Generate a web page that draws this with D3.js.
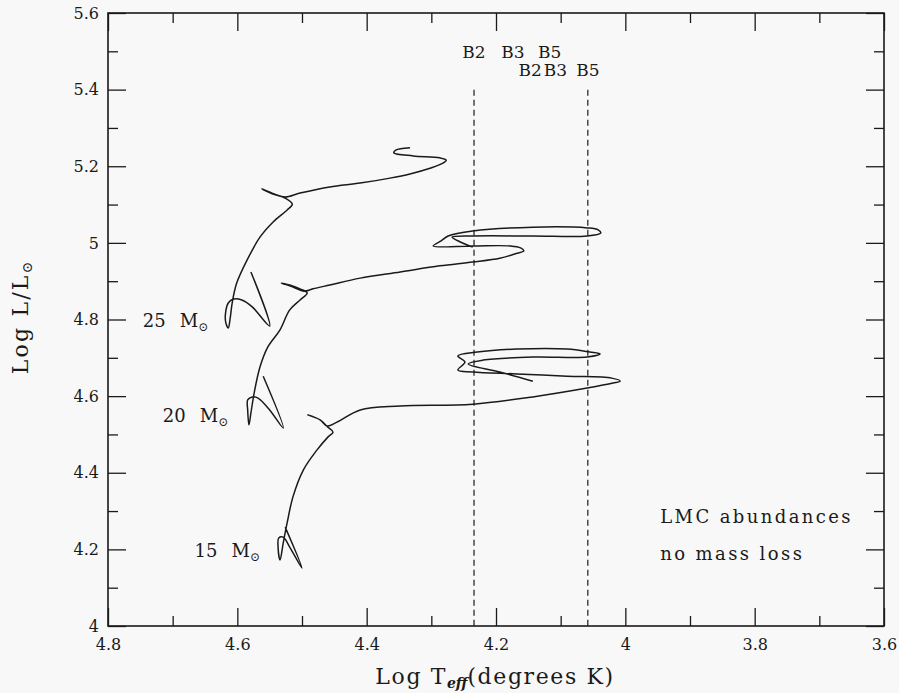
<!DOCTYPE html>
<html>
<head>
<meta charset="utf-8">
<script src="https://cdn.jsdelivr.net/npm/d3@7/dist/d3.min.js"></script>
<style>
  html, body { margin: 0; padding: 0; background: #f8f8f8; }
  svg { display: block; }
  text { font-family: "DejaVu Serif", "Liberation Serif", serif; fill: #1a1a1a; }
</style>
</head>
<body>
<svg id="chart" width="899" height="693"></svg>
<script>
// ---- axis ticks ----
const xTickValues  = [4.8, 4.6, 4.4, 4.2, 4.0, 3.8, 3.6];
const xMinorValues = [4.7, 4.5, 4.3, 4.1, 3.9, 3.7];
const yTickValues  = [4.0, 4.2, 4.4, 4.6, 4.8, 5.0, 5.2, 5.4, 5.6];
const yMinorValues = [4.1, 4.3, 4.5, 4.7, 4.9, 5.1, 5.3, 5.5];

// ---- evolutionary tracks: [log Teff, log L/Lsun] ----
const track25 = [
  [4.579, 4.924], [4.550, 4.783], [4.577, 4.833], [4.593, 4.851], [4.607, 4.853],
  [4.614, 4.843], [4.618, 4.820], [4.618, 4.793], [4.614, 4.778], [4.611, 4.804],
  [4.608, 4.843], [4.601, 4.895], [4.585, 4.955], [4.565, 5.015], [4.545, 5.054],
  [4.523, 5.086], [4.515, 5.101], [4.526, 5.117], [4.546, 5.128], [4.562, 5.141],
  [4.543, 5.128], [4.526, 5.120], [4.503, 5.130], [4.457, 5.146], [4.410, 5.156],
  [4.364, 5.169], [4.333, 5.180], [4.302, 5.195], [4.282, 5.208], [4.277, 5.216],
  [4.287, 5.222], [4.328, 5.227], [4.358, 5.235], [4.355, 5.242], [4.333, 5.248]
];
const track20 = [
  [4.560, 4.652], [4.529, 4.517], [4.550, 4.564], [4.568, 4.595], [4.577, 4.598],
  [4.584, 4.590], [4.584, 4.564], [4.582, 4.525], [4.579, 4.556], [4.574, 4.608],
  [4.565, 4.676], [4.553, 4.728], [4.534, 4.773], [4.519, 4.825], [4.503, 4.851],
  [4.492, 4.869], [4.503, 4.880], [4.519, 4.890], [4.532, 4.895], [4.514, 4.885],
  [4.497, 4.874], [4.483, 4.880], [4.457, 4.890], [4.410, 4.908], [4.348, 4.924],
  [4.287, 4.940], [4.236, 4.950], [4.194, 4.960], [4.171, 4.971], [4.157, 4.979],
  [4.162, 4.987], [4.178, 4.992], [4.236, 4.992], [4.297, 4.992], [4.285, 5.005],
  [4.274, 5.018], [4.236, 5.031], [4.143, 5.041], [4.059, 5.039], [4.042, 5.034],
  [4.038, 5.026], [4.059, 5.018], [4.143, 5.018], [4.236, 5.018], [4.268, 5.015],
  [4.256, 5.003], [4.236, 4.989]
];
const track15 = [
  [4.526, 4.258], [4.500, 4.151], [4.519, 4.206], [4.529, 4.232], [4.536, 4.230],
  [4.537, 4.206], [4.534, 4.172], [4.529, 4.217], [4.523, 4.269], [4.514, 4.337],
  [4.498, 4.407], [4.477, 4.459], [4.460, 4.493], [4.452, 4.506], [4.460, 4.519],
  [4.472, 4.538], [4.491, 4.551], [4.472, 4.538], [4.461, 4.522], [4.446, 4.532],
  [4.410, 4.564], [4.348, 4.574], [4.236, 4.579], [4.143, 4.598], [4.059, 4.621],
  [4.019, 4.634], [4.008, 4.639], [4.021, 4.647], [4.090, 4.652], [4.168, 4.658],
  [4.236, 4.663], [4.259, 4.668], [4.248, 4.689], [4.259, 4.705], [4.229, 4.715],
  [4.168, 4.723], [4.090, 4.723], [4.055, 4.715], [4.039, 4.710], [4.059, 4.702],
  [4.143, 4.702], [4.220, 4.694], [4.243, 4.684], [4.194, 4.663], [4.143, 4.639]
];
const tracks = [track25, track20, track15];

// ---- mass labels (text, anchor end position in data units) ----
const massLabels   = ["25", "20", "15"];
const massLabelPos = [[4.645, 4.780], [4.614, 4.532], [4.565, 4.180]];

// ---- spectral-type temperature scales ----
const typeLabels     = ["B2", "B3", "B5"];
const typeTempsUpper = [4.234, 4.174, 4.117];
const typeTempsLower = [4.147, 4.108, 4.058];
const boundaryTemps  = [4.234, 4.058];
const boundaryTop    = 5.4;

const noteLines = ["LMC abundances", "no mass loss"];

// ---- layout ----
const margin = { left: 108, top: 13 };
const W = 776, H = 613;
const ink = "#1a1a1a";

const svg = d3.select("#chart");
svg.append("rect").attr("width", 899).attr("height", 693).attr("fill", "#f8f8f8");

const g = svg.append("g").attr("transform", `translate(${margin.left},${margin.top})`);

const x = d3.scaleLinear().domain([4.8, 3.6]).range([0, W]);
const y = d3.scaleLinear().domain([4.0, 5.6]).range([H, 0]);

const fmt = d => String(+d.toFixed(1));

function styleAxis(sel) {
  sel.select(".domain").remove();
  sel.selectAll(".tick line").attr("stroke", ink).attr("stroke-width", 1.3);
  sel.selectAll(".tick text").attr("fill", ink)
     .style("font-family", "'DejaVu Serif', serif").style("font-size", "16px");
}

// bottom
g.append("g").attr("transform", `translate(0,${H})`)
  .call(d3.axisBottom(x).tickValues(xTickValues).tickSize(-18).tickPadding(13).tickFormat(fmt))
  .call(styleAxis);
g.append("g").attr("transform", `translate(0,${H})`)
  .call(d3.axisBottom(x).tickValues(xMinorValues).tickSize(-10).tickFormat(""))
  .call(styleAxis);
// top
g.append("g")
  .call(d3.axisTop(x).tickValues(xTickValues).tickSize(-18).tickFormat(""))
  .call(styleAxis);
g.append("g")
  .call(d3.axisTop(x).tickValues(xMinorValues).tickSize(-10).tickFormat(""))
  .call(styleAxis);
// left
g.append("g")
  .call(d3.axisLeft(y).tickValues(yTickValues).tickSize(-18).tickPadding(9).tickFormat(fmt))
  .call(styleAxis);
g.append("g")
  .call(d3.axisLeft(y).tickValues(yMinorValues).tickSize(-10).tickFormat(""))
  .call(styleAxis);
// right
g.append("g").attr("transform", `translate(${W},0)`)
  .call(d3.axisRight(y).tickValues(yTickValues).tickSize(-18).tickFormat(""))
  .call(styleAxis);
g.append("g").attr("transform", `translate(${W},0)`)
  .call(d3.axisRight(y).tickValues(yMinorValues).tickSize(-10).tickFormat(""))
  .call(styleAxis);

// frame
g.append("rect").attr("width", W).attr("height", H)
  .attr("fill", "none").attr("stroke", ink).attr("stroke-width", 1.6);

// spectral-type boundaries
g.selectAll("line.boundary").data(boundaryTemps).join("line")
  .attr("class", "boundary")
  .attr("x1", d => x(d)).attr("x2", d => x(d))
  .attr("y1", y(boundaryTop)).attr("y2", y(4.0))
  .attr("stroke", ink).attr("stroke-width", 1.2).attr("stroke-dasharray", "6,4");

function typeRow(temps, logL) {
  g.selectAll(null).data(typeLabels).join("text")
    .attr("x", (d, i) => x(temps[i])).attr("y", y(logL))
    .attr("text-anchor", "middle")
    .style("font-size", "17px")
    .text(d => d);
}
typeRow(typeTempsUpper, 5.483);
typeRow(typeTempsLower, 5.436);

// tracks
const line = d3.line().x(d => x(d[0])).y(d => y(d[1])).curve(d3.curveCatmullRom.alpha(0.5));
g.selectAll("path.track").data(tracks).join("path")
  .attr("class", "track")
  .attr("d", line)
  .attr("fill", "none").attr("stroke", ink).attr("stroke-width", 1.5)
  .attr("stroke-linejoin", "round");

// mass labels
massLabels.forEach((m, i) => {
  const t = g.append("text")
    .attr("x", x(massLabelPos[i][0])).attr("y", y(massLabelPos[i][1]))
    .attr("text-anchor", "end").style("font-size", "18px");
  t.append("tspan").text(m);
  t.append("tspan").attr("dx", 14).text("M");
  t.append("tspan").attr("dy", 4).style("font-size", "12px").text("\u2299");
});

// note
g.selectAll(null).data(noteLines).join("text")
  .attr("x", x(3.946)).attr("y", (d, i) => y(4.268) + i * 37)
  .style("font-size", "18px").style("letter-spacing", "2.4px")
  .text(d => d);

// axis titles
const xt = svg.append("text")
  .attr("x", 495).attr("y", 684).attr("text-anchor", "middle")
  .style("font-size", "22px").style("letter-spacing", "1.6px");
xt.append("tspan").text("Log T");
xt.append("tspan").attr("dy", 4).style("font-size", "14px").style("font-style", "italic")
  .style("font-weight", "bold").style("letter-spacing", "0px").text("eff");
xt.append("tspan").attr("dy", -4).text("(degrees K)");

const yt = svg.append("text")
  .attr("transform", "translate(28,318) rotate(-90)").attr("text-anchor", "middle")
  .style("font-size", "22px").style("letter-spacing", "2.2px");
yt.append("tspan").text("Log L/L");
yt.append("tspan").attr("dy", 4).style("font-size", "14px").style("letter-spacing", "0px").text("\u2299");
</script>
</body>
</html>
